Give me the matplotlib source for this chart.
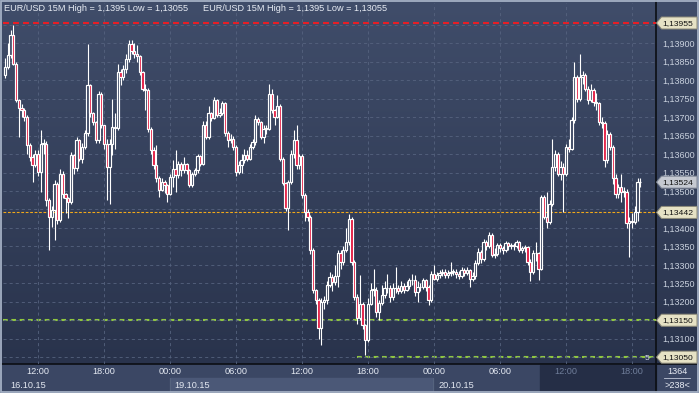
import numpy as np
import matplotlib
matplotlib.use("Agg")
import matplotlib.pyplot as plt
from matplotlib.patches import Rectangle, Polygon
from matplotlib.colors import LinearSegmentedColormap

plt.rcParams['font.family'] = ['Liberation Sans', 'DejaVu Sans']
plt.rcParams['lines.scale_dashes'] = False

# ---------------- data (prices in 1e-5 above 1.13000) ----------------
BASE = 1.13
UNIT = 1e-5
first_open = 813
close_pts = [
    836, 867, 922, 845, 746, 726, 720, 701, 624, 592,
    570, 601, 552, 628, 628, 475, 430, 448, 520, 421,
    547, 493, 480, 471, 597, 561, 637, 588, 620, 656,
    786, 710, 687, 637, 764, 678, 628, 565, 628, 674,
    670, 822, 809, 830, 858, 899, 880, 872, 865, 822,
    777, 773, 669, 610, 570, 534, 502, 525, 515, 493,
    538, 560, 543, 574, 556, 573, 556, 516, 547, 556,
    594, 574, 678, 646, 710, 699, 746, 705, 712, 737,
    656, 638, 642, 620, 552, 570, 584, 597, 588, 620,
    633, 696, 687, 647, 669, 669, 762, 719, 701, 730,
    588, 522, 453, 525, 600, 639, 570, 594, 489, 444,
    430, 340, 232, 205, 128, 200, 204, 245, 268, 254,
    270, 331, 308, 340, 362, 425, 308, 214, 155, 195,
    137, 96, 195, 233, 233, 173, 196, 218, 236, 236,
    214, 236, 236, 230, 242, 232, 242, 259, 259, 227,
    240, 240, 259, 240, 205, 276, 263, 272, 277, 281,
    272, 278, 281, 281, 275, 270, 286, 277, 286, 263,
    270, 304, 335, 317, 362, 350, 380, 326, 330, 353,
    345, 340, 358, 350, 353, 350, 362, 340, 345, 347,
    308, 281, 331, 331, 290, 484, 430, 417, 466, 565,
    601, 547, 565, 547, 619, 615, 692, 809, 750, 809,
    813, 777, 746, 773, 741, 737, 687, 683, 583, 655,
    619, 534, 493, 511, 498, 498, 412, 420, 416, 443,
    525, 524]
high_pts = [
    860, 900, 935, 950, 850, 750, 735, 725, 705, 630,
    600, 612, 610, 665, 640, 635, 480, 460, 530, 525,
    560, 555, 495, 485, 605, 600, 645, 640, 630, 665,
    899, 790, 715, 690, 770, 768, 680, 640, 640, 750,
    710, 845, 830, 840, 870, 908, 908, 900, 895, 868,
    825, 790, 780, 672, 620, 624, 540, 535, 530, 520,
    545, 583, 610, 580, 578, 592, 575, 560, 552, 562,
    600, 598, 690, 690, 730, 715, 755, 750, 725, 745,
    740, 662, 655, 648, 625, 580, 600, 615, 610, 628,
    640, 705, 700, 690, 680, 680, 791, 775, 722, 760,
    735, 592, 525, 530, 610, 665, 678, 600, 600, 495,
    450, 435, 345, 235, 210, 210, 215, 255, 280, 275,
    299, 340, 340, 350, 399, 439, 430, 312, 220, 272,
    200, 140, 210, 250, 290, 240, 205, 245, 255, 275,
    245, 250, 295, 245, 255, 250, 255, 265, 275, 272,
    255, 250, 265, 262, 245, 282, 299, 280, 285, 290,
    288, 285, 308, 290, 290, 282, 295, 292, 295, 290,
    280, 312, 345, 340, 370, 368, 389, 385, 345, 360,
    360, 352, 365, 362, 360, 358, 368, 365, 352, 355,
    350, 315, 340, 362, 335, 490, 488, 498, 475, 642,
    610, 605, 580, 575, 628, 640, 700, 849, 815, 872,
    825, 820, 785, 790, 780, 765, 742, 700, 690, 665,
    660, 625, 545, 520, 547, 510, 505, 430, 440, 460,
    535, 535]
low_pts = [
    806, 830, 860, 840, 740, 646, 700, 690, 600, 580,
    525, 565, 540, 498, 600, 460, 340, 403, 367, 410,
    415, 480, 440, 426, 465, 545, 555, 580, 575, 615,
    650, 700, 680, 630, 630, 670, 615, 475, 466, 597,
    615, 665, 786, 800, 820, 850, 870, 860, 850, 815,
    770, 720, 660, 600, 560, 525, 485, 500, 495, 470,
    490, 511, 498, 535, 540, 550, 545, 510, 510, 540,
    550, 568, 570, 640, 640, 690, 695, 700, 700, 705,
    650, 620, 630, 610, 540, 545, 548, 575, 580, 585,
    615, 625, 680, 640, 630, 655, 665, 712, 680, 698,
    580, 515, 445, 394, 520, 590, 560, 560, 480, 420,
    420, 330, 225, 195, 100, 83, 180, 195, 240, 230,
    245, 240, 290, 300, 335, 355, 300, 205, 140, 150,
    125, 55, 90, 190, 215, 160, 150, 190, 210, 225,
    200, 205, 225, 220, 225, 225, 228, 235, 245, 215,
    200, 230, 235, 230, 190, 200, 258, 255, 265, 270,
    265, 265, 270, 272, 265, 262, 265, 270, 272, 241,
    255, 262, 300, 305, 310, 340, 345, 320, 318, 325,
    335, 330, 335, 340, 342, 340, 345, 335, 332, 335,
    300, 255, 275, 310, 260, 285, 425, 400, 410, 460,
    555, 540, 530, 444, 540, 605, 610, 685, 740, 745,
    790, 770, 735, 740, 730, 720, 680, 670, 565, 575,
    610, 520, 480, 480, 470, 485, 400, 322, 400, 410,
    420, 510]

time_tick_idx = [12, 36, 60, 84, 108, 132, 156, 180, 204, 228]
time_tick_labels = ['12:00', '18:00', '00:00', '06:00', '12:00',
                    '18:00', '00:00', '06:00', '12:00', '18:00']
date_labels = ['16.10.15', '19.10.15', '20.10.15']
date_label_idx = [0, 60, 156]

level_high = 1.13955
level_mid = 1.13442
level_support = 1.13150
level_low = 1.13050
last_price = 1.13524
title = "EUR/USD 15M High = 1,1395 Low = 1,13055"
bars_total = "1364"
bars_visible = ">238<"

# ---------------- derived arrays ----------------
c = BASE + np.array(close_pts) * UNIT
o = BASE + np.array([first_open] + close_pts[:-1]) * UNIT
h = BASE + np.array(high_pts) * UNIT
l = BASE + np.array(low_pts) * UNIT
n = len(c)
x = np.arange(n)

# ---------------- figure ----------------
W, H = 699, 393
fig = plt.figure(figsize=(W / 100, H / 100), dpi=100)
fig.patch.set_facecolor('#3a4561')

bg = fig.add_axes([0, 0, 1, 1], zorder=0)
bg.set_xlim(0, W)
bg.set_ylim(H, 0)
bg.axis('off')

top_col, bot_col = '#404d6a', '#29334c'
cmap_bg = LinearSegmentedColormap.from_list('bgc', [top_col, bot_col])
grad = np.linspace(0, 1, 256).reshape(-1, 1)
bg.imshow(grad, extent=(0, W, 364, 0), cmap=cmap_bg, aspect='auto', origin='upper', zorder=0)

# time axis panels
bg.add_patch(Rectangle((0, 364), W, 29, color='#3b4764', zorder=1))
bg.add_patch(Rectangle((170, 378), 263, 13, color='#4b5877', zorder=2))
bg.add_patch(Rectangle((540, 365), 116, 26, color='#252e46', zorder=2))
bg.plot([656, 656], [0, H], color='#0b0e13', lw=1.2, zorder=3)
bg.plot([0, W], [364, 364], color='#0b0e13', lw=1.2, zorder=3)
bg.plot([170, 170], [378, 391], color='#56647f', lw=0.7, zorder=3)
bg.plot([433, 433], [378, 391], color='#56647f', lw=0.7, zorder=3)
bg.add_patch(Rectangle((0.8, 0.8), W - 1.6, H - 1.6, fill=False, edgecolor='#a4b0c4', lw=1.3, zorder=4))

# ---------------- main chart axes ----------------
px_left, px_right, px_top, px_bot = 3, 656, 3, 364
ax = fig.add_axes([px_left / W, (H - px_bot) / H, (px_right - px_left) / W, (px_bot - px_top) / H], zorder=1)
ax.patch.set_alpha(0)
for s in ax.spines.values():
    s.set_visible(False)

bar_px = 2.75
x0_px = 5
ax.set_xlim((px_left - x0_px) / bar_px, (px_right - x0_px) / bar_px)
ppu = 36925.0
ax.set_ylim(1.139 - (px_bot - 43.3) / ppu, 1.139 + (43.3 - px_top) / ppu)

tag_levels = [level_high, level_mid, level_support, level_low]
yt = np.round(np.arange(1.1305, 1.13951, 0.0005), 5)
ax.set_yticks(yt)
# labels that sit fully under a price tag are hidden, as in the reference
ylabels = []
for v in yt:
    covered = any(abs(v - t) < 0.00012 for t in tag_levels)
    ylabels.append('' if covered else f"{v:.5f}".replace('.', ','))
ax.set_yticklabels(ylabels)
ax.yaxis.tick_right()
ax.tick_params(axis='y', length=0, pad=4.5, labelsize=6.5, labelcolor='#c9d1de')
ax.set_xticks(time_tick_idx)
ax.set_xticklabels([])
ax.tick_params(axis='x', length=0)
ax.grid(True, color='#56637f', lw=0.6, ls=(0, (2.2, 2.2)), zorder=0)

# levels
ax.axhline(level_high, color='#e51e26', lw=1.5, ls=(0, (4.3, 2.9)), zorder=1)
ax.axhline(level_mid, color='#f0a81a', lw=0.8, ls=(0, (2.0, 1.2)), zorder=1)
ax.axhline(level_support, color='#8fc640', lw=1.5, ls=(0, (3.4, 2.6)), zorder=1)
low_start = int(np.argmin(l)) - 3
ax.hlines(level_low, low_start, ax.get_xlim()[1], color='#8fc640', lw=1.5, ls=(0, (3.4, 2.6)), zorder=1)

# candles
ax.vlines(x, l, h, color='white', lw=0.8, zorder=2)
up = c >= o
body_bot = np.minimum(o, c)
body_h = np.maximum(np.abs(c - o), 1.2e-5)
ymin, ymax = ax.get_ylim()
fracs = 1 - ((body_bot + body_h / 2) - ymin) / (ymax - ymin)
fill = [cmap_bg(f) if u else '#e3163e' for u, f in zip(up, fracs)]
ax.bar(x, body_h, bottom=body_bot, width=0.8, color=fill, edgecolor='white', linewidth=0.85, zorder=3)

# time labels
xaxis_tr = ax.get_xaxis_transform()
for i, lab in zip(time_tick_idx, time_tick_labels):
    col = '#6f7d99' if i >= 204 else '#e4e9f2'
    ax.text(i, -8 / 361, lab, transform=xaxis_tr, ha='center', va='center',
            fontsize=6.6, color=col, clip_on=False)

# ---------------- overlay ----------------
ov = fig.add_axes([0, 0, 1, 1], zorder=2)
ov.set_xlim(0, W)
ov.set_ylim(H, 0)
ov.axis('off')
ov.patch.set_alpha(0)


def ypix(price):
    return H - ax.transData.transform((0, price))[1]


def xpix(idx):
    return ax.transData.transform((idx, 0))[0]


for k, (lab, i) in enumerate(zip(date_labels, date_label_idx)):
    xp = 10 if k == 0 else xpix(i) + 4
    ov.text(xp, 385, lab, ha='left', va='center', fontsize=6.6, color='#e4e9f2')

ov.text(4, 8.5, title, ha='left', va='center', fontsize=6.6, color='#e8ecf4')
ov.text(203, 8.5, title, ha='left', va='center', fontsize=6.6, color='#e8ecf4')


def tag(price, face, edge):
    yc = ypix(price)
    pts = [(656.5, yc), (661.5, yc - 6), (697, yc - 6), (697, yc + 6), (661.5, yc + 6)]
    ov.add_patch(Polygon(pts, closed=True, facecolor=face, edgecolor=edge, lw=0.7, zorder=5))
    ov.text(662.5, yc + 0.5, f"{price:.5f}".replace('.', ','), ha='left', va='center',
            fontsize=6.1, color='#111111', zorder=6)


tag(level_high, '#e6e2c5', '#8d8b7a')
tag(last_price, '#c5c9d1', '#7f8796')
tag(level_mid, '#e6e2c5', '#8d8b7a')
tag(level_support, '#e6e2c5', '#8d8b7a')
tag(level_low, '#e6e2c5', '#8d8b7a')

ov.text(647, ypix(level_low) + 1, '5', ha='center', va='center', fontsize=6, color='#e4e9f2')

ov.text(677, 371.5, bars_total, ha='center', va='center', fontsize=6.6, color='#e8ecf4')
ov.plot([664, 690], [378, 378], color='#c0c8d8', lw=0.6)
ov.text(677, 385, bars_visible, ha='center', va='center', fontsize=6.6, color='#e8ecf4')

fig.savefig('out.png', dpi=100, facecolor=fig.get_facecolor())
